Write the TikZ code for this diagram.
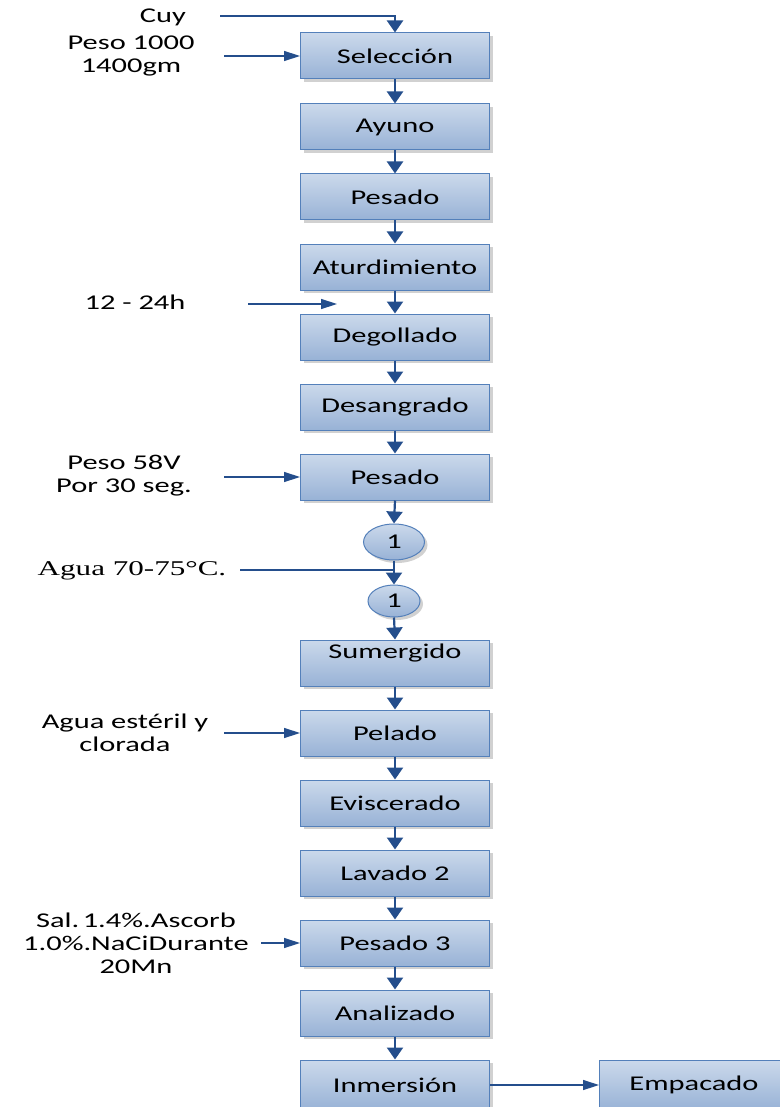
\documentclass[tikz,border=0pt]{standalone}
\usepackage{fontspec}
\setmainfont[FakeStretch=1.45]{Carlito}
\newfontfamily\romanfont[FakeStretch=1.48]{Liberation Serif}
\usetikzlibrary{arrows.meta,shadows,shapes.geometric}
\definecolor{flowline}{RGB}{36,78,140}
\definecolor{boxedge}{RGB}{84,128,186}
\definecolor{boxtop}{RGB}{203,217,235}
\definecolor{boxbot}{RGB}{152,178,214}
\tikzset{
  stepbox/.style={draw=boxedge, line width=1pt, top color=boxtop, bottom color=boxbot,
    minimum width=189pt, minimum height=46pt, inner sep=0pt,
    font=\fontsize{21}{23}\selectfont,
    drop shadow={shadow xshift=3pt, shadow yshift=-3pt, fill=black!40, opacity=.45}},
  connector/.style={ellipse, draw=boxedge, line width=1pt, top color=boxtop, bottom color=boxbot,
    inner sep=0pt, font=\fontsize{21}{23}\selectfont,
    drop shadow={shadow xshift=3pt, shadow yshift=-3pt, fill=black!40, opacity=.45}},
  sidetext/.style={align=center, font=\fontsize{21}{23}\selectfont, inner sep=0pt},
  vflow/.style={draw=flowline, line width=2.2pt, -{Triangle[width=16pt,length=12pt]}},
  hflow/.style={draw=flowline, line width=1.4pt, -{Triangle[width=10pt,length=16pt]}},
  plainflow/.style={draw=flowline, line width=1.4pt}
}
\begin{document}
\begin{tikzpicture}[x=1pt,y=-1pt]
\useasboundingbox (0,0) rectangle (779,1107);
% main column of process steps
\node[stepbox] (s1)  at (395,56)   {Selección};
\node[stepbox] (s2)  at (395,127)  {Ayuno};
\node[stepbox] (s3)  at (395,197)  {Pesado};
\node[stepbox] (s4)  at (395,267)  {Aturdimiento};
\node[stepbox] (s5)  at (395,337)  {Degollado};
\node[stepbox] (s6)  at (395,407)  {Desangrado};
\node[stepbox] (s7)  at (395,477)  {Pesado};
\node[connector, minimum width=61pt, minimum height=36pt] (c1) at (394,542) {1};
\node[connector, minimum width=52pt, minimum height=32pt] (c2) at (394,601) {1};
% label of this step sits high in its box
\node[stepbox] (s8)  at (395,663)  {\raisebox{5pt}[0pt][0pt]{Sumergido}};
\node[stepbox] (s9)  at (395,733)  {Pelado};
\node[stepbox] (s10) at (395,803)  {Eviscerado};
\node[stepbox] (s11) at (395,873)  {Lavado 2};
\node[stepbox] (s12) at (395,943)  {Pesado 3};
\node[stepbox] (s13) at (395,1013) {Analizado};
\node[stepbox, minimum height=50pt] (s14) at (395,1085) {Inmersión};
\node[stepbox, minimum height=50pt] (s15) at (694,1085) {Empacado};

% inputs on the left
\node[sidetext] (tcuy)  at (163,17)  {Cuy};
\node[sidetext] (tpeso) at (131,56)  {Peso 1000\\1400gm};
\node[sidetext] (th)    at (135,302) {12 - 24h};
\node[sidetext] (tv)    at (124,476) {Peso 58V\\Por 30 seg.};
\node[sidetext, font=\romanfont\fontsize{21}{23}\selectfont] (tagua) at (132,571) {Agua 70-75°C.};
\node[sidetext] (test)  at (125,733) {Agua estéril y\\clorada};
\node[sidetext] (tsal)  at (136,943) {Sal.\,1.4\%.Ascorb\\1.0\%.NaCiDurante\\20Mn};

\coordinate (cuyend) at (220,16);
\coordinate (cuyturn) at (395,16);
\coordinate (hstart) at (248,304);
\coordinate (hend) at (337,304);
\coordinate (aguastart) at (240,570);
\coordinate (aguajoin) at (394,570);

% vertical flow
\draw[vflow] (cuyend) -- (cuyturn) -- (s1.north);
\foreach \a/\b in {s1/s2,s2/s3,s3/s4,s4/s5,s5/s6,s6/s7,s7/c1,c1/c2,c2/s8,s8/s9,s9/s10,s10/s11,s11/s12,s12/s13,s13/s14}
  \draw[vflow] (\a.south) -- (\b.north);

% horizontal inputs
\draw[hflow] (224,56) -- (s1.west);
\draw[hflow] (hstart) -- (hend);
\draw[hflow] (224,477) -- (s7.west);
\draw[plainflow] (aguastart) -- (aguajoin);
\draw[hflow] (224,733) -- (s9.west);
\draw[hflow] (261,943) -- (s12.west);
\draw[hflow] (s14.east) -- (s15.west);
\end{tikzpicture}
\end{document}
